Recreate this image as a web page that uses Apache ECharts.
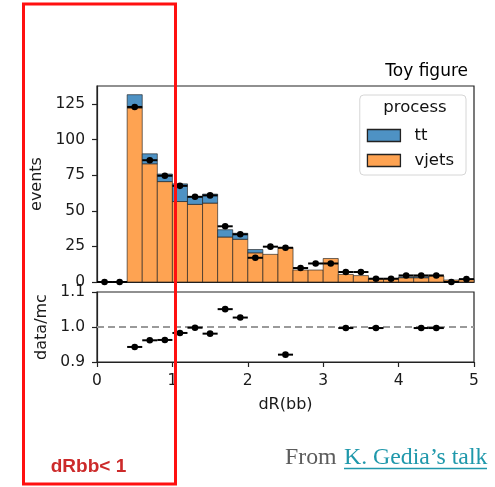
<!DOCTYPE html>
<html><head><meta charset="utf-8">
<script src="https://cdn.jsdelivr.net/npm/echarts@6/dist/echarts.min.js"></script>
<style>html,body{margin:0;padding:0;background:#fff}#c{width:495px;height:487px}</style>
</head><body><div id="c"></div>
<script>
// ---- data ----
const binEdges = [0,0.2,0.4,0.6,0.8,1.0,1.2,1.4,1.6,1.8,2.0,2.2,2.4,2.6,2.8,3.0,3.2,3.4,3.6,3.8,4.0,4.2,4.4,4.6,4.8,5.0];
const vjets = [0,0,122.2,83,70.5,56.5,54.5,55.4,31.6,30,20.5,19.4,24.3,8.4,8.4,16.5,5.3,4.5,2.2,2.3,3.0,3.0,4.2,1.4,1.9];
const tt    = [0,0,9.3,7,5.3,12.4,5.5,6.3,5.1,4.2,2.3,0,0,0,0,0,0,0,0,0,0.6,0.7,0,0,0];
const dataCounts = [0,0,122.9,85.5,74.6,67.5,59.8,60.8,39.1,33.5,17,24.8,24,9.8,13,13,7,7,2.3,2.3,4.6,4.6,4.6,0,2];
const ratio = [null,null,0.943,0.962,0.963,0.983,0.998,0.981,1.051,1.027,null,null,0.921,null,null,null,0.997,null,0.997,null,null,0.997,0.997,null,null];
const eventTicks = [0,25,50,75,100,125];
const ratioTicks = [0.9,1.0,1.1];
const xTicks = [0,1,2,3,4,5];

const FONT = 'DejaVu Sans';
const AX = '#1a1a1a';

const vjetsItems = [], ttItems = [], dataItems = [], ratioItems = [];
for (let i = 0; i < vjets.length; i++) {
  const lo = binEdges[i], hi = binEdges[i+1];
  if (vjets[i] > 0) vjetsItems.push([lo, hi, 0, vjets[i]]);
  if (tt[i] > 0) ttItems.push([lo, hi, vjets[i], vjets[i] + tt[i]]);
  dataItems.push([(lo + hi) / 2, dataCounts[i], (hi - lo) / 2]);
  if (ratio[i] != null) ratioItems.push([(lo + hi) / 2, ratio[i], (hi - lo) / 2]);
}

function histRender(fill) {
  return function (params, api) {
    const p0 = api.coord([api.value(0), api.value(2)]);
    const p1 = api.coord([api.value(1), api.value(3)]);
    return {type: 'rect',
      shape: {x: p0[0], y: p1[1], width: p1[0] - p0[0], height: p0[1] - p1[1]},
      style: {fill: fill, stroke: 'rgba(30,30,30,0.7)', lineWidth: 0.9}};
  };
}
function pointRender(params, api) {
  const c = api.value(0), v = api.value(1), h = api.value(2);
  const a = api.coord([c - h, v]), b = api.coord([c + h, v]), m = api.coord([c, v]);
  return {type: 'group', children: [
    {type: 'line', shape: {x1: a[0], y1: a[1], x2: b[0], y2: b[1]}, style: {stroke: '#000', lineWidth: 2}},
    {type: 'circle', shape: {cx: m[0], cy: m[1], r: 3.3}, style: {fill: '#000'}}
  ]};
}

const BLUE = '#4e92c4', ORANGE = '#fea352';

const chart = echarts.init(document.getElementById('c'), null, {renderer: 'canvas'});
chart.setOption({
  animation: false,
  backgroundColor: '#fff',
  title: {text: 'Toy figure', right: 22, top: 58,
    textStyle: {fontSize: 17, fontWeight: 'normal', fontFamily: FONT, color: '#000'}},
  grid: [
    {left: 97, right: 21, top: 86, height: 196, show: true, borderColor: '#222', borderWidth: 1.2, backgroundColor: 'transparent'},
    {left: 97, right: 21, top: 292, height: 70, show: true, borderColor: '#222', borderWidth: 1.2, backgroundColor: 'transparent'}
  ],
  legend: {data: ['tt', 'vjets'], orient: 'vertical', right: 29, top: 95, icon: 'rect',
    itemWidth: 33, itemHeight: 12, itemGap: 8, padding: [32, 12, 6, 7],
    backgroundColor: '#fff', borderColor: '#d6d6d6', borderWidth: 1, borderRadius: 4,
    itemStyle: {borderColor: '#222', borderWidth: 1.3},
    textStyle: {fontSize: 16.5, fontFamily: FONT, color: '#111', padding: [0, 0, 0, 9]}},
  xAxis: [
    {type: 'value', gridIndex: 0, min: 0, max: 5, interval: 1,
      axisLine: {show: true, lineStyle: {color: '#222', width: 1.2}},
      axisTick: {show: false}, axisLabel: {show: false}, splitLine: {show: false}},
    {type: 'value', gridIndex: 1, min: 0, max: 5, interval: 1,
      name: 'dR(bb)', nameLocation: 'middle', nameGap: 35,
      nameTextStyle: {fontSize: 16, fontFamily: FONT, color: AX},
      axisLine: {show: true, lineStyle: {color: '#222', width: 1.2}},
      axisTick: {show: true, inside: false, length: 5, lineStyle: {color: '#222', width: 1.2}, customValues: xTicks},
      axisLabel: {fontSize: 15.5, fontFamily: FONT, color: AX, margin: 11, customValues: xTicks},
      splitLine: {show: false}}
  ],
  yAxis: [
    {type: 'value', gridIndex: 0, min: 0, max: 137.6,
      name: 'events', nameLocation: 'middle', nameGap: 50, nameRotate: 90,
      nameTextStyle: {fontSize: 16, fontFamily: FONT, color: AX, padding: [0, 0, 0, 0]},
      axisLine: {show: true, lineStyle: {color: '#222', width: 1.2}},
      axisTick: {show: true, length: 5, lineStyle: {color: '#222', width: 1.2}, customValues: eventTicks},
      axisLabel: {fontSize: 15.5, fontFamily: FONT, color: AX, margin: 12, customValues: eventTicks},
      splitLine: {show: false}},
    {type: 'value', gridIndex: 1, min: 0.9, max: 1.1,
      name: 'data/mc', nameLocation: 'middle', nameGap: 47, nameRotate: 90,
      nameTextStyle: {fontSize: 16, fontFamily: FONT, color: AX},
      axisLine: {show: true, lineStyle: {color: '#222', width: 1.2}},
      axisTick: {show: true, length: 5, lineStyle: {color: '#222', width: 1.2}, customValues: ratioTicks},
      axisLabel: {fontSize: 15.5, fontFamily: FONT, color: AX, margin: 12, customValues: ratioTicks,
        formatter: v => v.toFixed(1)},
      splitLine: {show: false}}
  ],
  series: [
    {name: 'vjets', type: 'custom', xAxisIndex: 0, yAxisIndex: 0, data: vjetsItems,
      renderItem: histRender(ORANGE), itemStyle: {color: ORANGE, borderColor: '#222', borderWidth: 1.3},
      encode: {x: [0, 1], y: [2, 3]}, z: 2},
    {name: 'tt', type: 'custom', xAxisIndex: 0, yAxisIndex: 0, data: ttItems,
      renderItem: histRender(BLUE), itemStyle: {color: BLUE, borderColor: '#222', borderWidth: 1.3},
      encode: {x: [0, 1], y: [2, 3]}, z: 2},
    {name: 'data', type: 'custom', xAxisIndex: 0, yAxisIndex: 0, data: dataItems,
      renderItem: pointRender, encode: {x: 0, y: 1}, z: 5, clip: false},
    {name: 'ratio', type: 'custom', xAxisIndex: 1, yAxisIndex: 1, data: ratioItems,
      renderItem: pointRender, encode: {x: 0, y: 1}, z: 5, clip: false,
      markLine: {silent: true, symbol: 'none', label: {show: false},
        lineStyle: {color: '#9a9a9a', type: [7, 4], width: 2},
        data: [{yAxis: 1.0}]}}
  ],
  graphic: [
    {type: 'text', x: 415, y: 108, z: 50,
      style: {text: 'process', font: '16.5px "DejaVu Sans"', fill: '#111', textAlign: 'center', textVerticalAlign: 'middle'}},
    {type: 'rect', z: 100, shape: {x: 23.5, y: 4, width: 152, height: 480},
      style: {fill: 'none', stroke: '#ff1010', lineWidth: 3}},
    {type: 'text', x: 88.5, y: 467, z: 100,
      style: {text: 'dRbb< 1', font: 'bold 19px "Liberation Sans"', fill: '#cc2a2a', textAlign: 'center', textVerticalAlign: 'middle'}},
    {type: 'text', x: 285, y: 458, z: 100,
      style: {text: 'From', font: '23.8px "Liberation Serif"', fill: '#5c5c5c', textAlign: 'left', textVerticalAlign: 'middle'}},
    {type: 'text', x: 344, y: 458, z: 100,
      style: {text: 'K. Gedia’s talk', font: '23.8px "Liberation Serif"', fill: '#1f98ab', textAlign: 'left', textVerticalAlign: 'middle'}},
    {type: 'line', z: 100, shape: {x1: 344, y1: 468.5, x2: 487, y2: 468.5},
      style: {stroke: '#1f98ab', lineWidth: 1.5}}
  ]
});
</script>
</body></html>
